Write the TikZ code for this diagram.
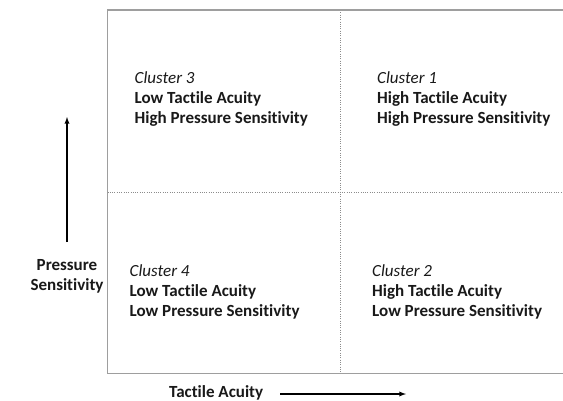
\documentclass[tikz,border=0pt]{standalone}
\usepackage{fontspec}
\setmainfont{Carlito}[Ligatures=NoCommon]
\begin{document}
\begin{tikzpicture}[x=1pt,y=-1pt]
	\tikzset{box/.style={draw=black!38, line width=1.3pt},dv/.style={draw=black!45, line width=0.9pt, dash pattern=on 0.9pt off 1.4pt},
		c/.style={anchor=west, align=left, inner sep=0pt, text=black!90, font=\fontsize{17}{20}\selectfont},
		lab/.style={align=center, inner sep=0pt, font=\fontsize{17}{19.5}\selectfont\bfseries, text=black!90},
		f/.style={->,>=latex, line width=1.3pt}};
	\useasboundingbox[fill=white] (0,0) rectangle (563,400);

	\coordinate (tl) at (107.5,10);
	\coordinate (tr) at (563,10);
	\coordinate (bl) at (107.5,373.5);
	\coordinate (br) at (563,373.5);
	\coordinate (mt) at (340.5,10);
	\coordinate (mb) at (340.5,373.5);
	\coordinate (ml) at (107.5,192);
	\coordinate (mr) at (563,192);

	\draw[dv] (mt) -- (mb);
	\draw[dv] (ml) -- (mr);
	\draw[box] (tr) -- (tl) -- (bl) -- (br);

	\node[c] (c3) at (134.5,99) {\textit{Cluster 3}\\\textbf{Low Tactile Acuity}\\\textbf{High Pressure Sensitivity}};
	\node[c] (c1) at (377,99) {\textit{Cluster 1}\\\textbf{High Tactile Acuity}\\\textbf{High Pressure Sensitivity}};
	\node[c] (c4) at (129.5,292) {\textit{Cluster 4}\\\textbf{Low Tactile Acuity}\\\textbf{Low Pressure Sensitivity}};
	\node[c] (c2) at (372,292) {\textit{Cluster 2}\\\textbf{High Tactile Acuity}\\\textbf{Low Pressure Sensitivity}};

	\node[lab] (ps) at (67,276.5) {Pressure\\Sensitivity};
	\node[lab, anchor=base west] (ta) at (169,397) {Tactile Acuity};

	\coordinate (u0) at (67,242);
	\coordinate (u1) at (67,117);
	\coordinate (r0) at (280,394);
	\coordinate (r1) at (406,394);
	\draw[f] (u0) to (u1);
	\draw[f] (r0) to (r1);
\end{tikzpicture}
\end{document}
